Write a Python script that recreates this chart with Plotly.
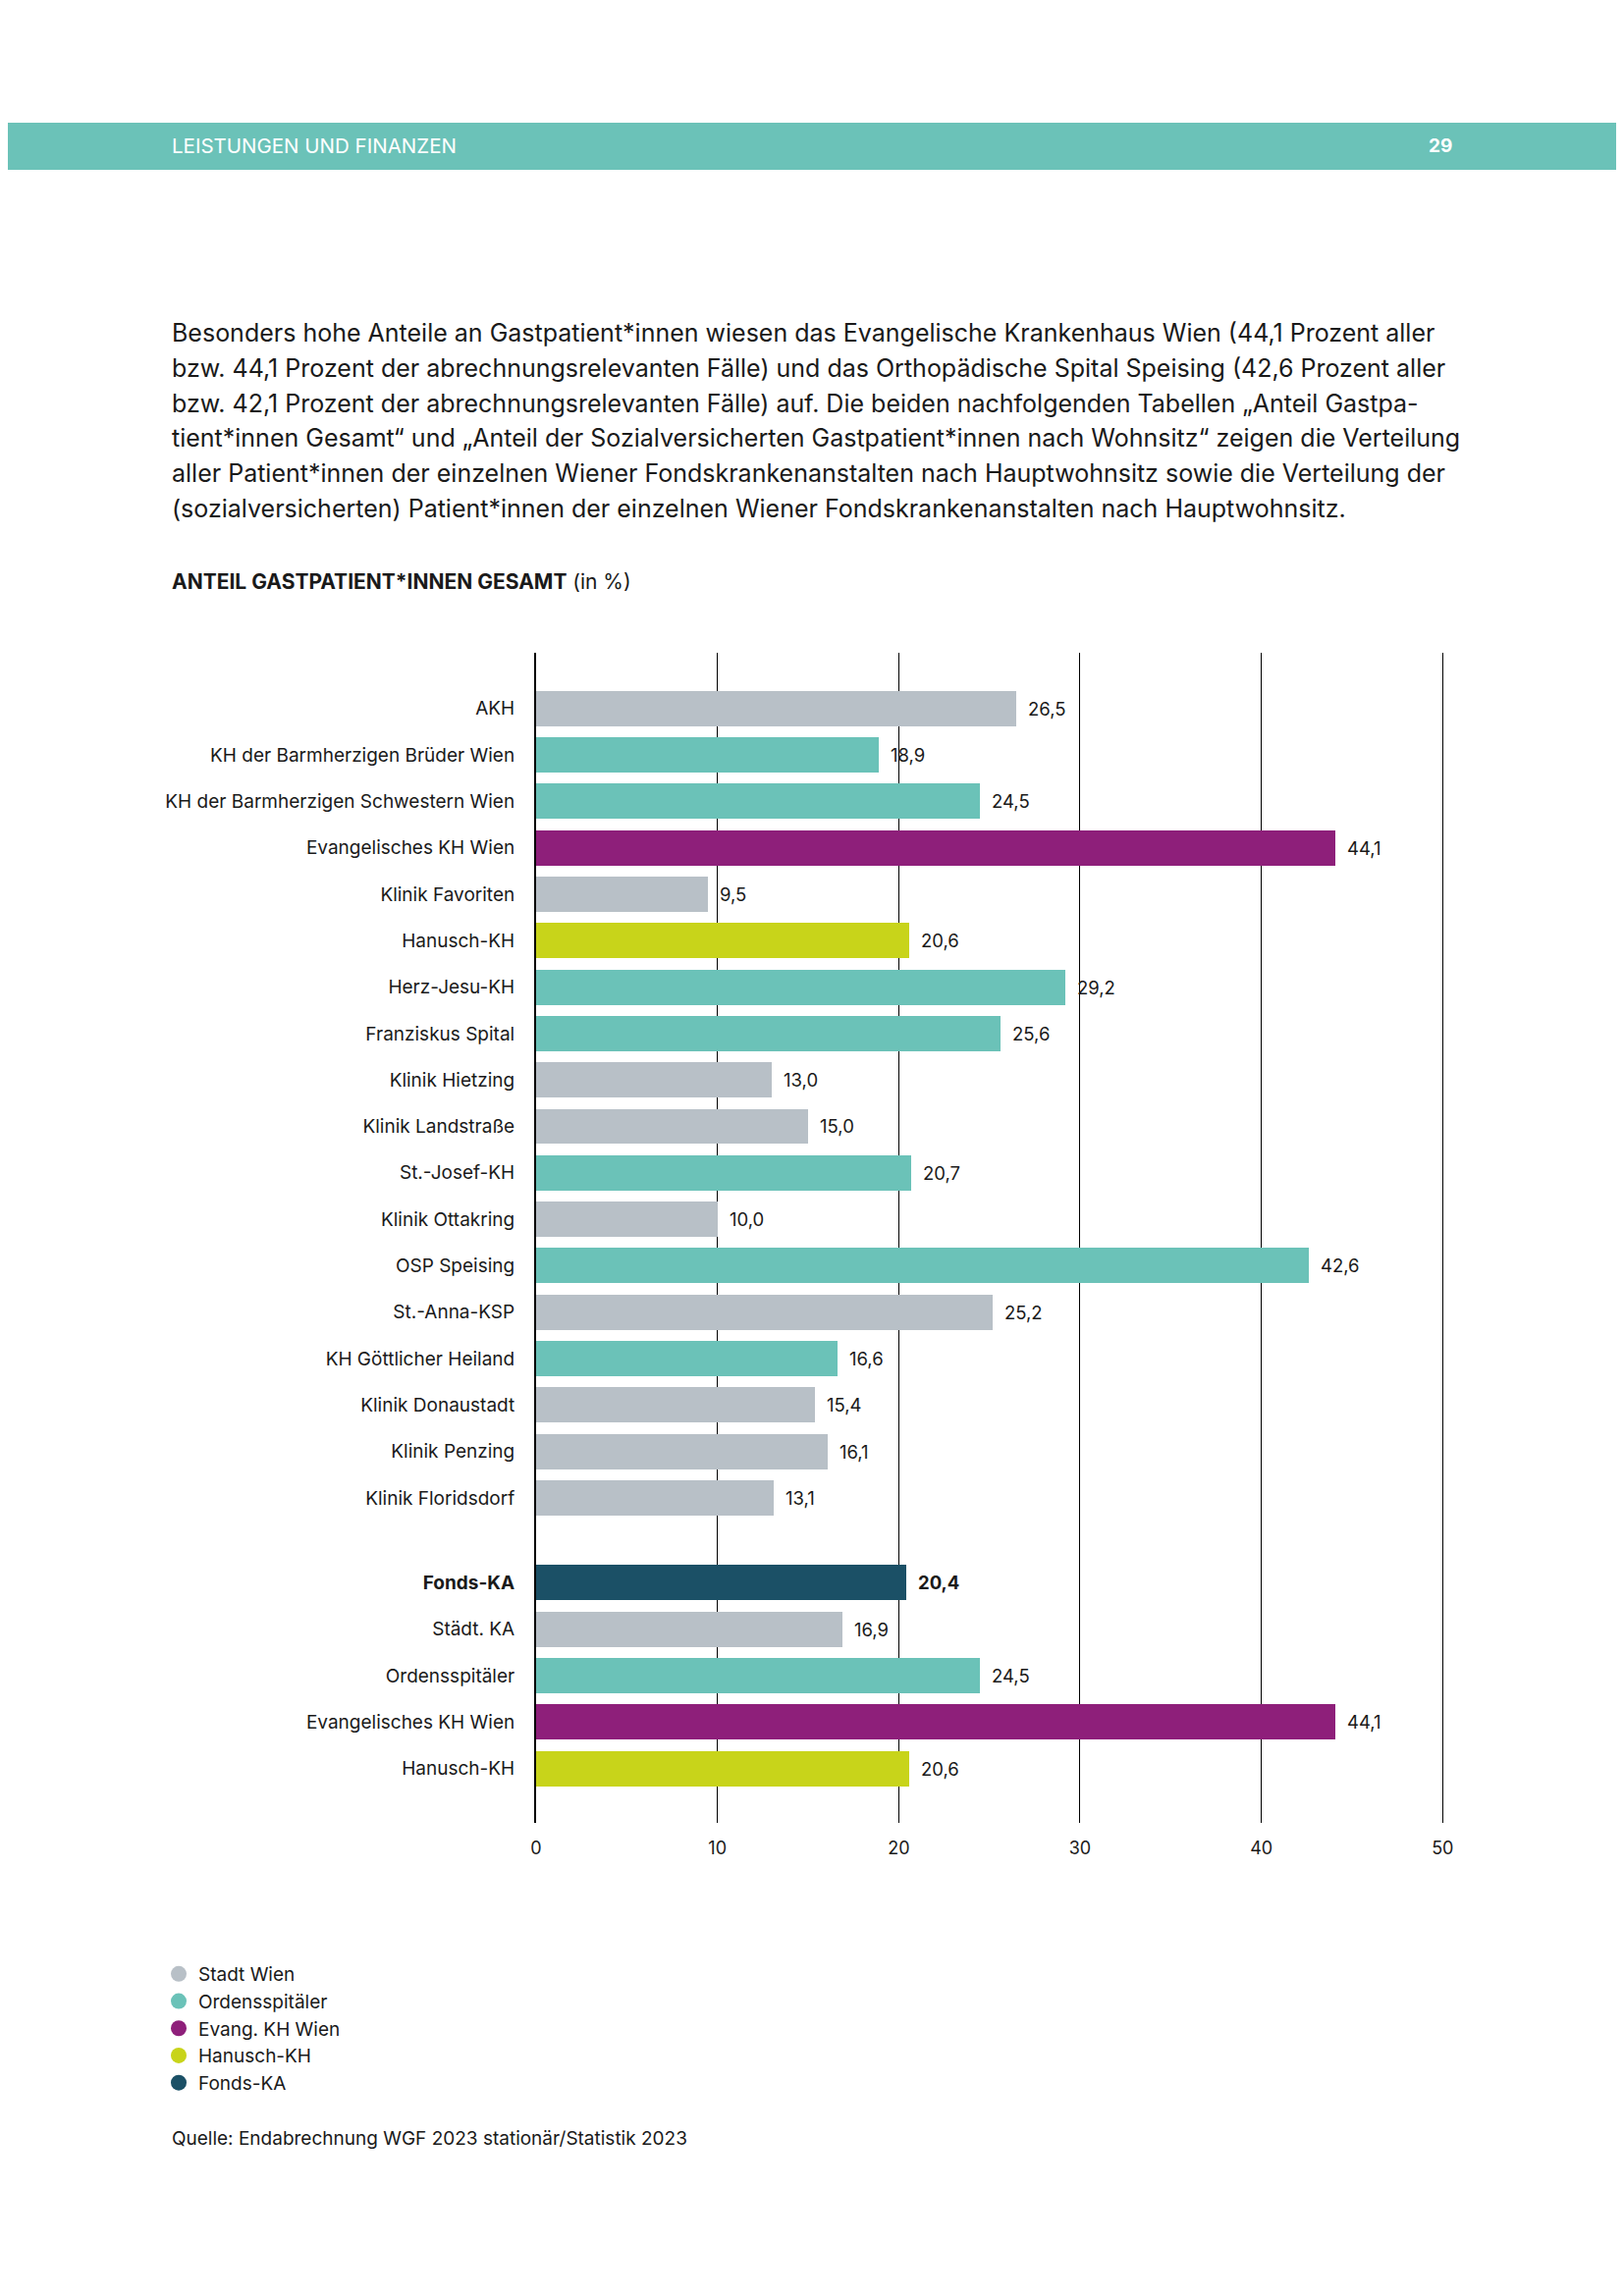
import plotly.graph_objects as go

# ---------------- data ----------------
labels = [
    "AKH", "KH der Barmherzigen Brüder Wien", "KH der Barmherzigen Schwestern Wien",
    "Evangelisches KH Wien", "Klinik Favoriten", "Hanusch-KH", "Herz-Jesu-KH",
    "Franziskus Spital", "Klinik Hietzing", "Klinik Landstraße", "St.-Josef-KH",
    "Klinik Ottakring", "OSP Speising", "St.-Anna-KSP", "KH Göttlicher Heiland",
    "Klinik Donaustadt", "Klinik Penzing", "Klinik Floridsdorf",
    "Fonds-KA", "Städt. KA", "Ordensspitäler", "Evangelisches KH Wien", "Hanusch-KH",
]
values = [26.5, 18.9, 24.5, 44.1, 9.5, 20.6, 29.2, 25.6, 13.0, 15.0, 20.7, 10.0,
          42.6, 25.2, 16.6, 15.4, 16.1, 13.1,
          20.4, 16.9, 24.5, 44.1, 20.6]
groups = ["Stadt Wien", "Ordensspitäler", "Ordensspitäler", "Evang. KH Wien", "Stadt Wien",
          "Hanusch-KH", "Ordensspitäler", "Ordensspitäler", "Stadt Wien", "Stadt Wien",
          "Ordensspitäler", "Stadt Wien", "Ordensspitäler", "Stadt Wien", "Ordensspitäler",
          "Stadt Wien", "Stadt Wien", "Stadt Wien",
          "Fonds-KA", "Stadt Wien", "Ordensspitäler", "Evang. KH Wien", "Hanusch-KH"]
legend_names = ["Stadt Wien", "Ordensspitäler", "Evang. KH Wien", "Hanusch-KH", "Fonds-KA"]
x_ticks = [0, 10, 20, 30, 40, 50]

colors = {
    "Stadt Wien": "#b8c0c7",
    "Ordensspitäler": "#6bc2b8",
    "Evang. KH Wien": "#8e1f7a",
    "Hanusch-KH": "#c8d41a",
    "Fonds-KA": "#1b5066",
}

paragraph = [
    "Besonders hohe Anteile an Gastpatient*innen wiesen das Evangelische Krankenhaus Wien (44,1 Prozent aller",
    "bzw. 44,1 Prozent der abrechnungsrelevanten Fälle) und das Orthopädische Spital Speising (42,6 Prozent aller",
    "bzw. 42,1 Prozent der abrechnungsrelevanten Fälle) auf. Die beiden nachfolgenden Tabellen „Anteil Gastpa-",
    "tient*innen Gesamt“ und „Anteil der Sozialversicherten Gastpatient*innen nach Wohnsitz“ zeigen die Verteilung",
    "aller Patient*innen der einzelnen Wiener Fondskrankenanstalten nach Hauptwohnsitz sowie die Verteilung der",
    "(sozialversicherten) Patient*innen der einzelnen Wiener Fondskrankenanstalten nach Hauptwohnsitz.",
]

# ---------------- layout geometry ----------------
OFF = 8                      # default page body margin
W, H = 1654 - 2 * OFF, 2339 - 2 * OFF
L, T = 546 - OFF, 665 - OFF
PW, PH = 927, 1192
R = W - L - PW
B = H - T - PH
FONT = "Inter, Liberation Sans, Arial, sans-serif"
TXT = "#1a1a1a"

def px(xp):
    return (xp - OFF - L) / PW

def py(yp):
    return (T + PH - (yp - OFF)) / PH

n_main = 18
gap_extra = 0.83
pos = [i if i < n_main else i + gap_extra for i in range(len(labels))]
y_top = -1.2
y_bot = pos[-1] + 1.17

def fmt(v):
    return f"{v:.1f}".replace(".", ",")

fig = go.Figure()
fig.add_trace(go.Bar(
    x=values, y=pos, orientation="h",
    marker=dict(color=[colors[g] for g in groups], line=dict(width=0)),
    width=0.76, showlegend=False, hoverinfo="skip",
))

for name in legend_names:
    fig.add_trace(go.Scatter(
        x=[None], y=[None], mode="markers", name=name,
        marker=dict(symbol="circle", size=16, color=colors[name]),
    ))

annotations = []
for i, (v, p) in enumerate(zip(values, pos)):
    t = fmt(v)
    if i == n_main:
        t = "<b>" + t + "</b>"
    annotations.append(dict(x=v, y=p, xref="x", yref="y", text=t, showarrow=False,
                            xanchor="left", yanchor="middle", xshift=10,
                            font=dict(family=FONT, size=18.5, color=TXT)))

ticktext = ["<b>" + l + "</b>" if i == n_main else l for i, l in enumerate(labels)]

shapes = [dict(type="rect", xref="paper", yref="paper", x0=px(0), x1=px(1654),
               y0=py(173), y1=py(125), fillcolor="#6bc2b8", line=dict(width=0), layer="below")]
annotations.append(dict(x=px(173), y=py(149), xref="paper", yref="paper",
                        text="LEISTUNGEN UND FINANZEN", showarrow=False,
                        xanchor="left", yanchor="middle",
                        font=dict(family=FONT, size=20.5, color="white")))
annotations.append(dict(x=px(1481), y=py(149), xref="paper", yref="paper",
                        text="<b>29</b>", showarrow=False,
                        xanchor="right", yanchor="middle",
                        font=dict(family=FONT, size=19, color="white")))

para_y = [339, 375, 411, 446, 482, 518]
for line, yy in zip(paragraph, para_y):
    annotations.append(dict(x=px(173), y=py(yy), xref="paper", yref="paper",
                            text=line, showarrow=False, xanchor="left", yanchor="middle",
                            font=dict(family=FONT, size=25, color=TXT)))

annotations.append(dict(x=px(173), y=py(592), xref="paper", yref="paper",
                        text="<b>ANTEIL GASTPATIENT*INNEN GESAMT</b> (in %)", showarrow=False,
                        xanchor="left", yanchor="middle",
                        font=dict(family=FONT, size=21, color=TXT)))

annotations.append(dict(x=px(173), y=py(2178), xref="paper", yref="paper",
                        text="Quelle: Endabrechnung WGF 2023 stationär/Statistik 2023", showarrow=False,
                        xanchor="left", yanchor="middle",
                        font=dict(family=FONT, size=19, color=TXT)))

fig.update_layout(
    width=W, height=H,
    margin=dict(l=L, r=R, t=T, b=B),
    paper_bgcolor="white", plot_bgcolor="white",
    font=dict(family=FONT, size=19, color=TXT),
    bargap=0,
    xaxis=dict(range=[0, 50.2], tickvals=x_ticks, ticktext=[str(t) for t in x_ticks],
               showgrid=True, gridcolor="#000000", gridwidth=1, zeroline=False,
               showline=False, ticks="", ticklabelstandoff=13,
               tickfont=dict(family=FONT, size=18, color=TXT), fixedrange=True),
    yaxis=dict(range=[y_bot, y_top], tickvals=pos, ticktext=ticktext,
               showgrid=False, zeroline=False, showline=True, linecolor="#000000",
               linewidth=2, ticks="", ticklabelstandoff=16,
               tickfont=dict(family=FONT, size=19, color=TXT), fixedrange=True),
    legend=dict(x=px(162), y=py(1992), xanchor="left", yanchor="top",
                font=dict(family=FONT, size=19, color=TXT), bgcolor="rgba(0,0,0,0)",
                itemclick=False, itemdoubleclick=False, tracegroupgap=0),
    shapes=shapes,
    annotations=annotations,
)

fig.write_html("out.html")
